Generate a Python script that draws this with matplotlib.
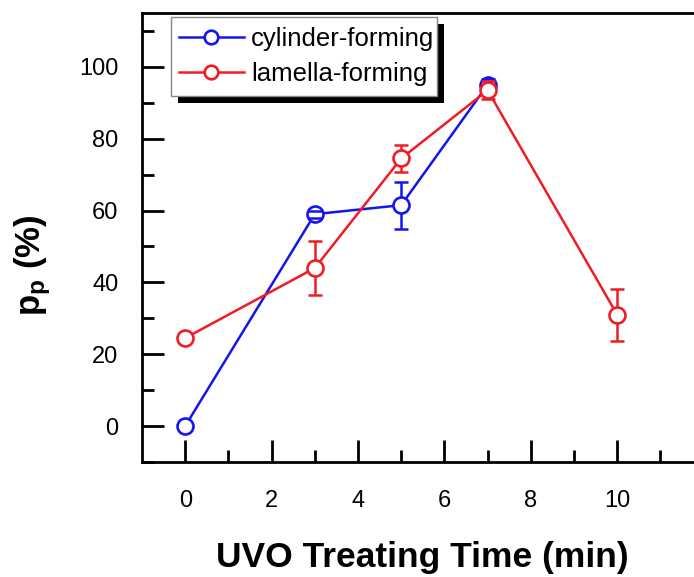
import matplotlib
matplotlib.use("Agg")
import matplotlib.pyplot as plt
from matplotlib.patches import Rectangle
from matplotlib.transforms import IdentityTransform

plt.rcParams['font.family'] = ['Liberation Sans', 'DejaVu Sans']
plt.rcParams['mathtext.fontset'] = 'custom'
plt.rcParams['mathtext.rm'] = 'Liberation Sans'
plt.rcParams['mathtext.bf'] = 'Liberation Sans:bold'
plt.rcParams['mathtext.it'] = 'Liberation Sans:italic'

# Data
cyl_x = [0, 3, 5, 7]
cyl_y = [0, 59, 61.5, 95]
cyl_err = [0, 1.0, 6.5, 1.5]

lam_x = [0, 3, 5, 7, 10]
lam_y = [24.5, 44, 74.5, 93.5, 31]
lam_err = [0, 7.4, 3.7, 2.5, 7.3]

xticks = [0, 2, 4, 6, 8, 10]
yticks = [0, 20, 40, 60, 80, 100]

BLUE = '#1414f0'
RED = '#ee1c24'

W, H = 694, 577
fig = plt.figure(figsize=(W / 100, H / 100), dpi=100)
ax = fig.add_axes([142 / W, (H - 462) / H, 561.6 / W, 449 / H])

def draw(x, y, e, color, label, z):
    ex = [a for a, s in zip(x, e) if s > 0]
    ey = [b for b, s in zip(y, e) if s > 0]
    ee = [s for s in e if s > 0]
    eb = ax.errorbar(ex, ey, yerr=ee, fmt='none', ecolor=color, elinewidth=1.8,
                     capsize=4.7, capthick=1.8, zorder=1)
    for c in eb[1]:
        c.set_zorder(z + 0.5)
    ax.plot(x, y, '-o', color=color, lw=1.8, ms=11.5, mfc='white', mec=color,
            mew=1.9, label=label, zorder=z)

draw(cyl_x, cyl_y, cyl_err, BLUE, 'cylinder-forming', 2)
draw(lam_x, lam_y, lam_err, RED, 'lamella-forming', 3)

ax.set_xlim(-1, 12)
ax.set_ylim(-10, 115)
ax.set_xticks(xticks)
ax.set_yticks(yticks)
ax.set_xticks([1, 3, 5, 7, 9, 11], minor=True)
ax.set_yticks([-10, 10, 30, 50, 70, 90, 110], minor=True)
ax.tick_params(which='both', direction='in', width=2, top=False, right=False,
               labelsize=17, color='black')
ax.tick_params(which='major', length=16)
ax.tick_params(which='minor', length=8.5)
ax.tick_params(axis='x', which='major', pad=20)
ax.tick_params(axis='y', which='major', pad=17)
for s in ax.spines.values():
    s.set_linewidth(2)

ax.set_xlabel('UVO Treating Time (min)', fontsize=25.5, fontweight='bold')
ax.xaxis.set_label_coords(0.5, -0.175)
ax.set_ylabel(r'$\mathbf{p_p}$ (%)', fontsize=25, fontweight='bold')
ax.yaxis.set_label_coords(-0.158, 0.439)

leg = ax.legend(loc='upper left', bbox_to_anchor=(27 / 561.6, 1 - 4 / 449),
                fontsize=18.5, frameon=False, handlelength=2.5,
                handletextpad=0.3, borderpad=0.4, labelspacing=0.4,
                markerscale=0.85, borderaxespad=0)
leg.set_zorder(6)

fig.canvas.draw()
bb = leg.get_window_extent()
x0 = bb.x0 + 2
wd = bb.width - 10
frame = Rectangle((x0, bb.y0), wd, bb.height, transform=IdentityTransform(),
                  facecolor='white', edgecolor='#888888', linewidth=1,
                  zorder=5.5, clip_on=False)
shadow = Rectangle((x0 + 7, bb.y0 - 7), wd, bb.height,
                   transform=IdentityTransform(), facecolor='black',
                   edgecolor='none', zorder=5.4, clip_on=False)
ax.add_artist(shadow)
ax.add_artist(frame)

fig.savefig('out.png', dpi=100)
